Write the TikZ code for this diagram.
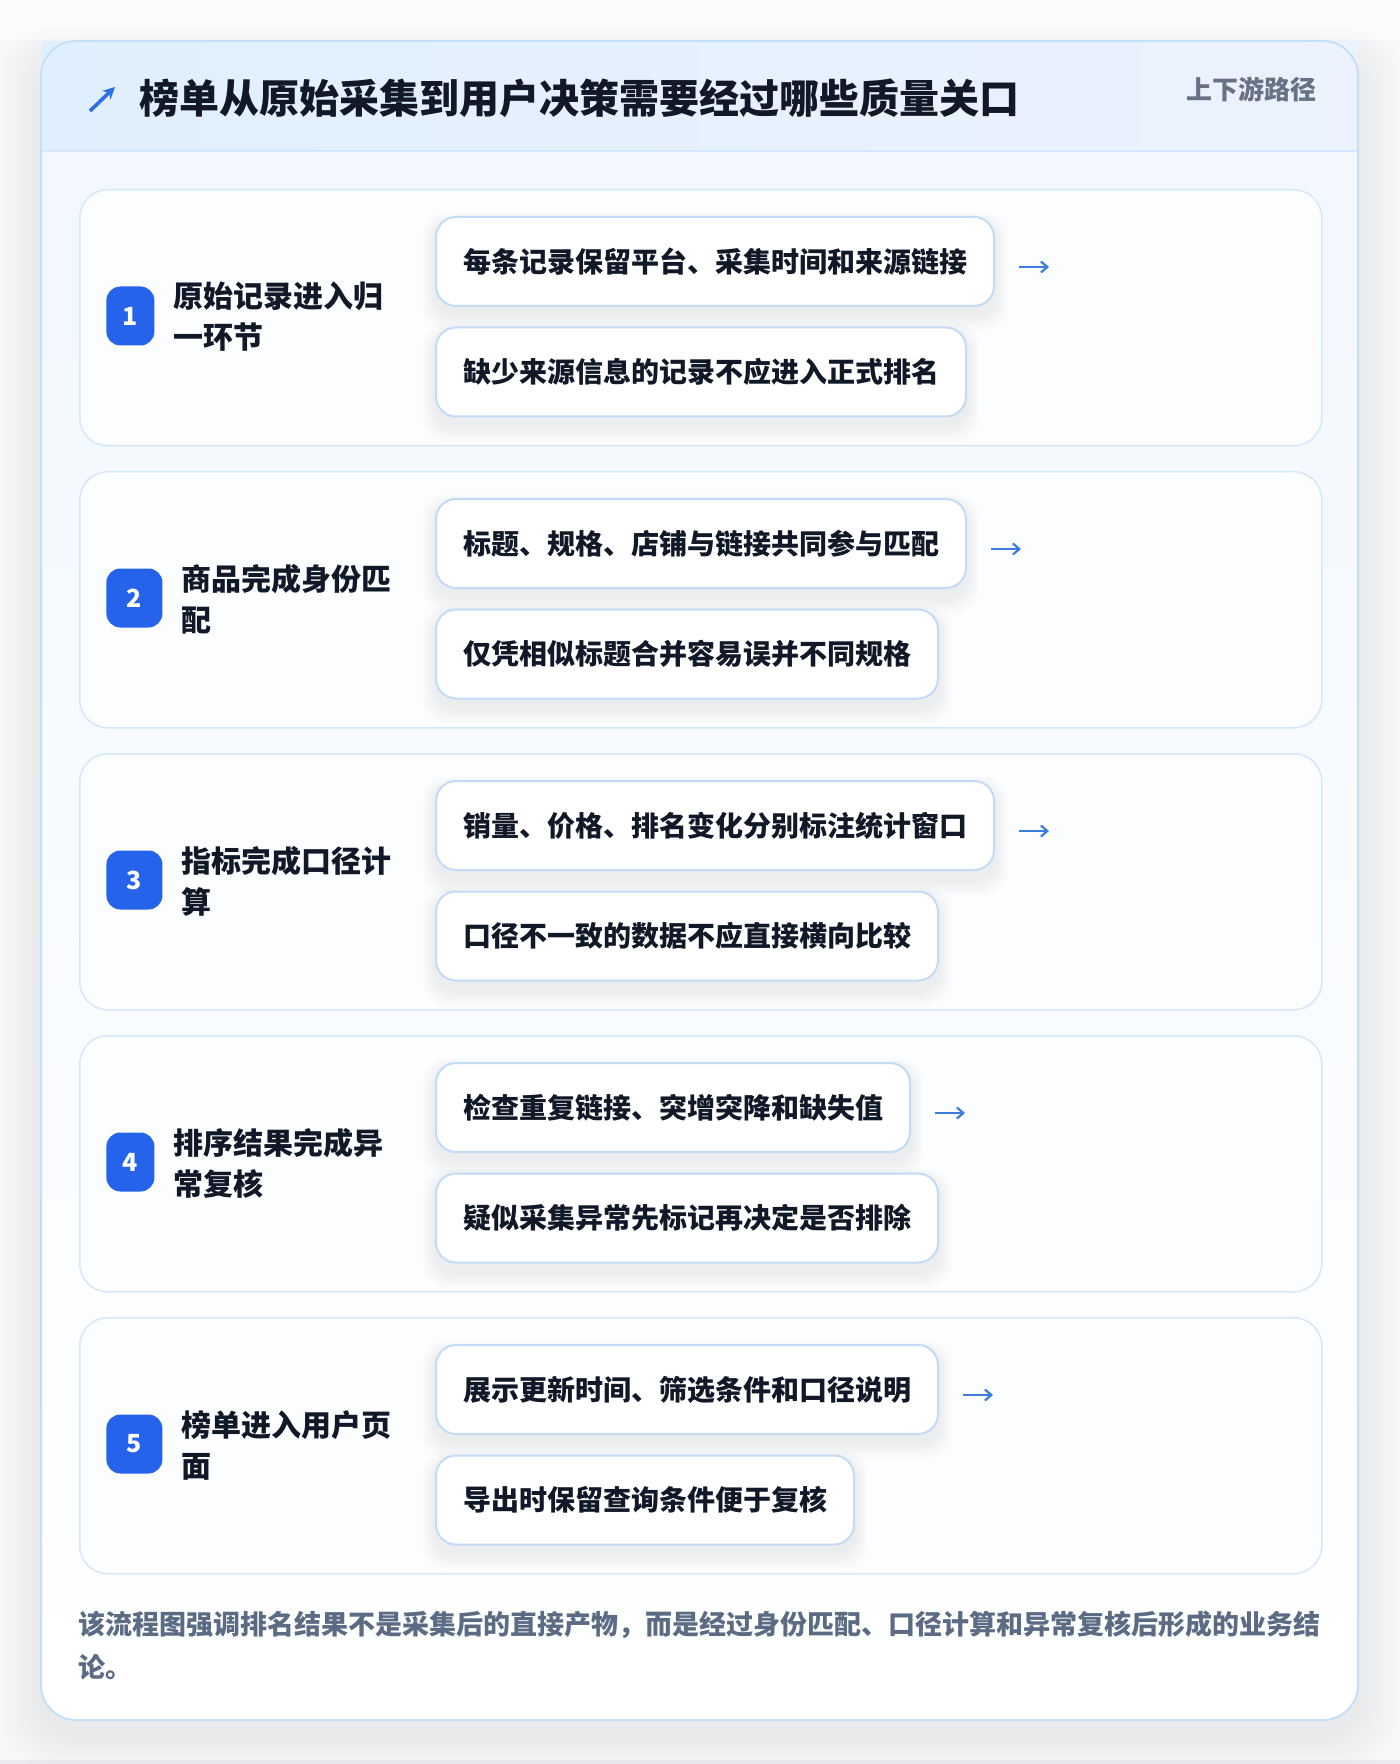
\documentclass[tikz,border=0pt]{standalone}
\usepackage{fontspec}
\setmainfont{Noto Sans CJK SC}
\usetikzlibrary{arrows.meta}
\pgfdeclarelayer{bglayer}
\pgfdeclarelayer{shadowlayer}
\pgfsetlayers{bglayer,shadowlayer,main}
\definecolor{pagebg}{HTML}{F7F8FA}
\definecolor{pagebot}{HTML}{E9EBEF}
\definecolor{cardborder}{HTML}{C4E0F8}
\definecolor{headerL}{HTML}{E0EFFD}
\definecolor{headerR}{HTML}{ECF2FE}
\definecolor{headerline}{HTML}{D5E8FB}
\definecolor{cardtop}{HTML}{F1F7FE}
\definecolor{cardbot}{HTML}{FFFFFF}
\definecolor{stepfill}{HTML}{FCFDFF}
\definecolor{stepborder}{HTML}{D6E7FB}
\definecolor{pillborder}{HTML}{C3DBF6}
\definecolor{badgeblue}{HTML}{2563EB}
\definecolor{iconblue}{HTML}{2F6FE4}
\definecolor{ink}{HTML}{111827}
\definecolor{muted}{HTML}{667385}
\definecolor{footink}{HTML}{5B6B83}
\definecolor{arrowblue}{HTML}{3B7DDD}
\tikzset{
  stepbox/.style={draw=stepborder, line width=0.75pt, fill=stepfill, rounded corners=14pt,
    minimum width=621pt, minimum height=128pt, anchor=north west, inner sep=0pt},
  pill/.style={draw=pillborder, line width=1pt, fill=white, rounded corners=10pt,
    minimum height=44.5pt, inner xsep=13.5pt, inner ysep=0pt, anchor=west,
    font=\bfseries\fontsize{14pt}{17pt}\selectfont, text=ink},
  badge/.style={fill=badgeblue, rounded corners=7pt, minimum height=29.5pt, inner sep=0pt,
    text=white, font=\bfseries\fontsize{12.5pt}{13pt}\selectfont, anchor=west},
  steptitle/.style={anchor=west, align=left, inner sep=0pt, text=ink,
    font=\bfseries\fontsize{15pt}{20.5pt}\selectfont},
  flowarrow/.style={draw=arrowblue, line width=1.1pt, -{Straight Barb[length=3.2pt,width=5.5pt]}},
  pshadow/.style={black, opacity=0.007, rounded corners=12pt},
}
\begin{document}
\begin{tikzpicture}[x=0.5pt,y=-0.5pt]
\useasboundingbox (0,0) rectangle (1400,1764);
\begin{pgfonlayer}{bglayer}
\fill[pagebg] (0,0) rectangle (1400,1764);
\fill[white!60!pagebg] (0,0) rectangle (1400,40);
\fill[pagebot] (0,1760) rectangle (1400,1764);
% card shadow
\foreach \i in {1,...,14}{
  \fill[black, opacity=0.0045, rounded corners=22pt]
    (41-3*\i, 41+14-2*\i) rectangle (1358+3*\i, 1720+18+2*\i);
}
% card body
\shade[top color=cardtop, bottom color=cardbot, rounded corners=17.5pt]
  (41,41) rectangle (1358,1720);
% header
\shade[left color=headerL, right color=headerR] (42,42) rectangle (1357,151);
\draw[headerline, line width=1pt] (42,151) -- (1357,151);
\draw[cardborder, line width=1pt, rounded corners=17.5pt] (41,41) rectangle (1358,1720);
\end{pgfonlayer}
\node[anchor=west, inner sep=0pt, text=ink, font=\bfseries\fontsize{20pt}{24pt}\selectfont]
  (title) at (139,98) {榜单从原始采集到用户决策需要经过哪些质量关口};
\coordinate (icA) at (90,111);
\coordinate (icB) at (115,87);
\draw[draw=iconblue, line width=1.8pt, -{Stealth[length=6pt,width=6pt]}] (icA) -- (icB);
\node[anchor=east, inner sep=0pt, text=muted, font=\bfseries\fontsize{13pt}{15pt}\selectfont]
  (tag) at (1317,89) {上下游路径};
% steps
\foreach \n/\bw/\tt/\pa/\pb in {
  1/48/{原始记录进入归\\一环节}/{每条记录保留平台、采集时间和来源链接}/{缺少来源信息的记录不应进入正式排名},
  2/56/{商品完成身份匹\\配}/{标题、规格、店铺与链接共同参与匹配}/{仅凭相似标题合并容易误并不同规格},
  3/56/{指标完成口径计\\算}/{销量、价格、排名变化分别标注统计窗口}/{口径不一致的数据不应直接横向比较},
  4/48/{排序结果完成异\\常复核}/{检查重复链接、突增突降和缺失值}/{疑似采集异常先标记再决定是否排除},
  5/56/{榜单进入用户页\\面}/{展示更新时间、筛选条件和口径说明}/{导出时保留查询条件便于复核}}{
  \pgfmathsetmacro{\T}{189+282*(\n-1)}
  \pgfmathsetmacro{\bwpt}{\bw/2}
  \begin{pgfonlayer}{bglayer}
    \node[stepbox] (s\n) at (79,\T) {};
  \end{pgfonlayer}
  \node[badge, minimum width=\bwpt pt] (b\n) at (106,\T+127) {\n};
  \node[steptitle] (t\n) at (106+\bw+19,\T+128) {\tt};
  \node[pill] (p\n a) at (435,\T+72.5) {\pa};
  \node[pill] (p\n b) at (435,\T+183) {\pb};
  \begin{pgfonlayer}{shadowlayer}
    \foreach \k in {1,...,8}{
      \fill[pshadow] ([xshift=-0.8*\k pt, yshift=-3pt+0.6*\k pt]p\n a.north west)
        rectangle ([xshift=0.8*\k pt, yshift=-4pt-1*\k pt]p\n a.south east);
      \fill[pshadow] ([xshift=-0.8*\k pt, yshift=-3pt+0.6*\k pt]p\n b.north west)
        rectangle ([xshift=0.8*\k pt, yshift=-4pt-1*\k pt]p\n b.south east);
    }
  \end{pgfonlayer}
  \coordinate (a\n s) at ([xshift=12pt, yshift=-2.75pt]p\n a.east);
  \coordinate (a\n e) at ([xshift=27pt, yshift=-2.75pt]p\n a.east);
  \draw[flowarrow] (a\n s) -- (a\n e);
}
\node[anchor=west, align=left, inner sep=0pt, text=footink,
  font=\bfseries\fontsize{13.5pt}{21.5pt}\selectfont] (foot) at (78,1646)
  {该流程图强调排名结果不是采集后的直接产物，而是经过身份匹配、口径计算和异常复核后形成的业务结\\论。};
\end{tikzpicture}
\end{document}
